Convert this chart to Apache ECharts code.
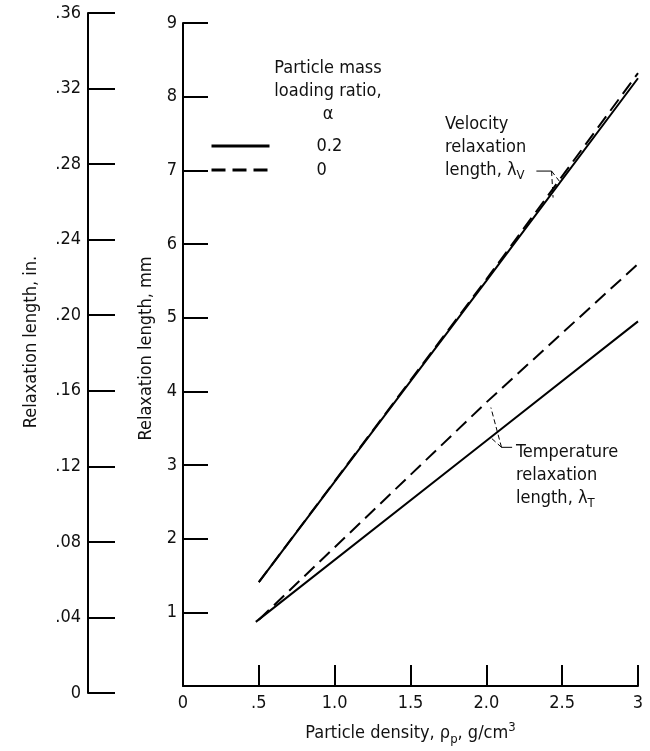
<!DOCTYPE html>
<html>
<head>
<meta charset="utf-8">
<script src="https://cdn.jsdelivr.net/npm/echarts@6/dist/echarts.min.js"></script>
<style>
    html, body {margin: 0; padding: 0; background: #fff;}
    #chart {width: 650px; height: 751px;}
</style>
</head>
<body>
<div id="chart"></div>
<script>
// values: [density g/cm3, length mm]
var velocitySolid = [[0.5, 1.41], [2.0, 5.5], [3.0, 8.25]];    // alpha = 0.2
var velocityDashed = [[0.5, 1.41], [2.0, 5.52], [3.0, 8.32]];  // alpha = 0
var tempSolid = [[0.48, 0.87], [2.0, 3.33], [3.0, 4.95]];      // alpha = 0.2
var tempDashed = [[0.5, 0.9], [2.0, 3.85], [3.0, 5.73]];       // alpha = 0

// leader lines for the two labels
var velLeaderBar = [[2.33, 6.99], [2.43, 6.99]];
var velLeaderA = [[2.43, 6.99], [2.44, 6.63]];
var velLeaderB = [[2.43, 6.99], [2.49, 6.83]];
var tempLeaderBar = [[2.17, 3.24], [2.10, 3.24]];
var tempLeaderA = [[2.10, 3.24], [2.03, 3.78]];
var tempLeaderB = [[2.10, 3.24], [2.03, 3.37]];

var xTicks = {0: '0', 0.5: '.5', 1: '1.0', 1.5: '1.5', 2: '2.0', 2.5: '2.5', 3: '3'};
var legendNames = ['0.2', '0'];

var FONT = '"DejaVu Sans Condensed", "Liberation Sans Narrow", sans-serif';
var INK = '#111';

var myChart = echarts.init(document.getElementById('chart'));

function curve(name, data, dashed) {
    return {
        name: name,
        type: 'line',
        xAxisIndex: 0,
        yAxisIndex: 0,
        data: data,
        showSymbol: false,
        symbol: 'none',
        silent: true,
        itemStyle: {color: '#000'},
        lineStyle: {color: '#000', width: 2, type: dashed ? [14, 7] : 'solid'}
    };
}

function leader(data, dashed) {
    return {
        type: 'line',
        xAxisIndex: 0,
        yAxisIndex: 0,
        data: data,
        showSymbol: false,
        symbol: 'none',
        silent: true,
        lineStyle: {color: '#000', width: 1, type: dashed ? [5, 3] : 'solid'}
    };
}

var axisLine = {show: true, lineStyle: {color: '#000', width: 2}};

var option = {
    animation: false,
    backgroundColor: '#fff',
    textStyle: {fontFamily: FONT, color: INK},
    grid: [
        {left: 183, right: 12, top: 23, bottom: 58},
        {left: 88, width: 1, top: 13, bottom: 58}
    ],
    xAxis: [
        {
            gridIndex: 0,
            type: 'value',
            min: 0, max: 3, interval: 0.5,
            axisLine: axisLine,
            axisTick: {show: true, inside: true, length: 21, lineStyle: {color: '#000', width: 2}},
            splitLine: {show: false},
            axisLabel: {
                margin: 8, fontSize: 18, fontFamily: FONT, color: INK,
                formatter: function (v) { return xTicks[v] !== undefined ? xTicks[v] : ''; }
            },
            name: 'Particle density, ρ{s|p}, g/cm{u|3}',
            nameLocation: 'middle',
            nameGap: 35,
            nameTextStyle: {
                fontSize: 18, fontFamily: FONT, color: INK,
                rich: {
                    s: {fontSize: 13, fontFamily: FONT, color: INK, padding: [12, 0, 0, 0]},
                    u: {fontSize: 13, fontFamily: FONT, color: INK, padding: [0, 0, 12, 0]}
                }
            }
        },
        {gridIndex: 1, type: 'value', show: false, min: 0, max: 1}
    ],
    yAxis: [
        {
            gridIndex: 0,
            type: 'value',
            min: 0, max: 9, interval: 1,
            axisLine: axisLine,
            axisTick: {show: true, inside: true, length: 25, lineStyle: {color: '#000', width: 2}},
            splitLine: {show: false},
            axisLabel: {
                margin: 6, fontSize: 18, fontFamily: FONT, color: INK,
                formatter: function (v) { return v === 0 ? '' : String(v); }
            },
            name: 'Relaxation length, mm',
            nameLocation: 'middle',
            nameGap: 26,
            nameTextStyle: {fontSize: 18, fontFamily: FONT, color: INK, padding: [0, 0, 0, 12]}
        },
        {
            gridIndex: 1,
            type: 'value',
            min: 0, max: 0.36, interval: 0.04,
            axisLine: axisLine,
            axisTick: {show: true, inside: true, length: 27, lineStyle: {color: '#000', width: 2}},
            splitLine: {show: false},
            axisLabel: {
                margin: 7, fontSize: 18, fontFamily: FONT, color: INK,
                formatter: function (v) { return v === 0 ? '0' : v.toFixed(2).slice(1); }
            },
            name: 'Relaxation length, in.',
            nameLocation: 'middle',
            nameGap: 48,
            nameTextStyle: {fontSize: 18, fontFamily: FONT, color: INK, padding: [0, 0, 0, 22]}
        }
    ],
    legend: {
        data: legendNames,
        orient: 'vertical',
        left: 210,
        top: 137,
        padding: 0,
        itemWidth: 58,
        itemHeight: 14,
        itemGap: 6,
        selectedMode: false,
        itemStyle: {opacity: 0},
        lineStyle: {width: 3, color: '#000'},
        textStyle: {fontSize: 18, fontFamily: FONT, color: INK, padding: [0, 0, 0, 42]}
    },
    graphic: [
        {
            type: 'text',
            x: 328, y: 57,
            style: {
                text: 'Particle mass\nloading ratio,\nα',
                fontSize: 18, fontFamily: FONT, fill: INK,
                lineHeight: 23, align: 'center'
            }
        },
        {
            type: 'text',
            left: 445, top: 113,
            style: {
                text: 'Velocity\nrelaxation\nlength, λ{s|V}',
                fontSize: 18, fontFamily: FONT, fill: INK,
                lineHeight: 23,
                rich: {s: {fontSize: 13, fontFamily: FONT, fill: INK, padding: [11, 0, 0, 0]}}
            }
        },
        {
            type: 'text',
            left: 516, top: 441,
            style: {
                text: 'Temperature\nrelaxation\nlength, λ{s|T}',
                fontSize: 18, fontFamily: FONT, fill: INK,
                lineHeight: 23,
                rich: {s: {fontSize: 13, fontFamily: FONT, fill: INK, padding: [11, 0, 0, 0]}}
            }
        }
    ],
    series: [
        curve('0.2', velocitySolid, false),
        curve('0', velocityDashed, true),
        curve('0.2', tempSolid, false),
        curve('0', tempDashed, true),
        leader(velLeaderBar, false),
        leader(velLeaderA, true),
        leader(velLeaderB, true),
        leader(tempLeaderBar, false),
        leader(tempLeaderA, true),
        leader(tempLeaderB, true)
    ]
};

myChart.setOption(option);
</script>
</body>
</html>
